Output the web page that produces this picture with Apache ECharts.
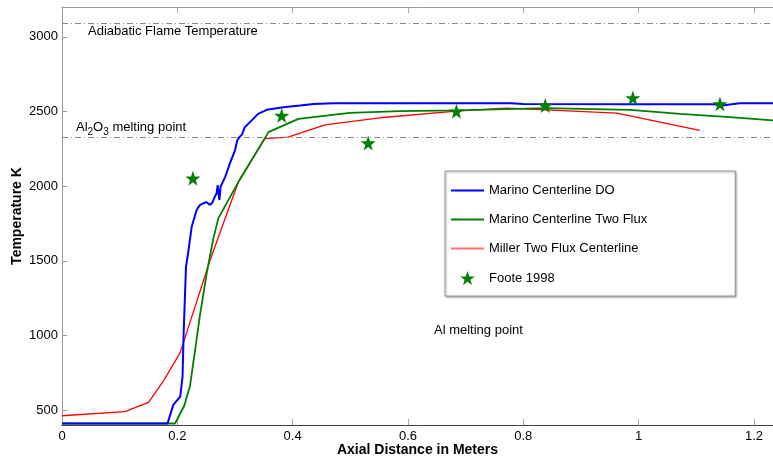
<!DOCTYPE html>
<html><head><meta charset="utf-8">
<script src="https://cdn.jsdelivr.net/npm/echarts@6/dist/echarts.min.js"></script>
<style>html,body{margin:0;padding:0;background:#fff}#c{width:773px;height:459px}</style>
</head><body><div id="c"></div>
<script>
const xTicks = [0, 0.2, 0.4, 0.6, 0.8, 1.0, 1.2];
const yTicks = [500, 1000, 1500, 2000, 2500, 3000];

const blueX = [0,0.183,0.193,0.205,0.208,0.209,0.211,0.213,0.215,0.219,0.225,0.2335,0.239,0.245,0.251,0.256,0.260,0.265,0.268,0.270,0.272,0.273,0.275,0.283,0.291,0.300,0.304,0.306,0.308,0.312,0.317,0.326,0.340,0.355,0.384,0.413,0.436,0.470,0.586,0.78,0.8,1.0,1.13,1.145,1.175,1.233];
const blueY = [410,410,535,590,600,720,1020,1240,1460,1560,1730,1840,1873,1885,1893,1875,1885,1929,1950,2007,1930,1907,1995,2062,2151,2240,2307,2300,2330,2345,2395,2429,2484,2511,2529,2540,2551,2555,2555,2555,2550,2548,2548,2540,2555,2555];

const greenX = [0,0.196,0.212,0.222,0.231,0.239,0.251,0.262,0.271,0.306,0.358,0.410,0.499,0.586,0.684,0.840,0.985,1.072,1.158,1.233];
const greenY = [410,410,529,662,907,1129,1418,1640,1784,2029,2362,2451,2491,2502,2507,2522,2511,2484,2462,2440];

const redX = [0,0.109,0.150,0.176,0.205,0.257,0.306,0.352,0.392,0.456,0.551,0.684,0.771,0.858,0.962,1.106];
const redY = [462,489,551,696,885,1507,2029,2318,2329,2411,2458,2502,2522,2507,2489,2373];

const footeX = [0.227,0.381,0.531,0.684,0.838,0.990,1.141];
const footeY = [2053,2473,2289,2502,2540,2591,2551];

const al2o3Melt = 2327;
const adiabatic = 3093;

const zip = (a, b) => a.map((v, i) => [v, b[i]]);
const star = 'path://M50,0 L61.8,35.1 L98.1,35.1 L68.8,56.7 L79.4,90.5 L50,69.1 L20.6,90.5 L31.2,56.7 L1.9,35.1 L38.2,35.1 Z';
const lineIcon2 = 'path://M0,0 H100 V6 H0 Z';
const FONT = 'Liberation Sans, Arial, sans-serif';

const chart = echarts.init(document.getElementById('c'), null, {renderer: 'canvas'});
chart.setOption({
  animation: false,
  backgroundColor: '#fff',
  grid: {left: 62, right: 0, top: 7, bottom: 34, containLabel: false, outerBoundsMode: 'none'},
  xAxis: [{
    type: 'value', min: 0, max: 1.233, position: 'bottom',
    name: 'Axial Distance in Meters', nameLocation: 'middle', nameGap: 18, nameMoveOverlap: false,
    nameTextStyle: {fontFamily: FONT, fontWeight: 'bold', fontSize: 14, color: '#000'},
    axisLine: {lineStyle: {color: '#444', width: 1}},
    axisTick: {inside: true, length: 6, customValues: xTicks, lineStyle: {color: '#aaa'}},
    axisLabel: {customValues: xTicks, fontFamily: FONT, fontSize: 13, color: '#000', margin: 5,
      formatter: v => String(+v.toFixed(1))},
    splitLine: {show: false}
  }, {
    type: 'value', min: 0, max: 1.233, position: 'top',
    axisLine: {lineStyle: {color: '#999', width: 1}},
    axisTick: {inside: true, length: 6, customValues: xTicks, lineStyle: {color: '#aaa'}},
    axisLabel: {show: false}, splitLine: {show: false}
  }],
  yAxis: {
    type: 'value', min: 400, max: 3200,
    name: 'Temperature K', nameLocation: 'middle', nameGap: 38, nameMoveOverlap: false,
    nameTextStyle: {fontFamily: FONT, fontWeight: 'bold', fontSize: 14, color: '#000'},
    axisLine: {show: true, lineStyle: {color: '#999', width: 1}},
    axisTick: {show: true, inside: true, length: 5, customValues: yTicks, lineStyle: {color: '#999'}},
    axisLabel: {customValues: yTicks, fontFamily: FONT, fontSize: 13, color: '#000', margin: 4,
      formatter: v => String(v)},
    splitLine: {show: false}
  },
  legend: {
    orient: 'vertical', left: 445, top: 171,
    padding: [13, 88, 11, 6], itemGap: 16, itemWidth: 33, itemHeight: 14,
    backgroundColor: '#fff', borderColor: '#999', borderWidth: 1,
    shadowColor: 'rgba(0,0,0,0.35)', shadowOffsetX: 1, shadowOffsetY: 1, shadowBlur: 2,
    textStyle: {fontFamily: FONT, fontSize: 13, color: '#000'},
    data: [
      {name: 'Marino Centerline DO', icon: lineIcon2, itemStyle: {color: '#0000ff'}},
      {name: 'Marino Centerline Two Flux', icon: lineIcon2, itemStyle: {color: '#008000'}},
      {name: 'Miller Two Flux Centerline', icon: lineIcon2, itemStyle: {color: '#ff7070'}},
      {name: 'Foote 1998', icon: star, itemStyle: {color: '#008000', opacity: 1}}
    ]
  },
  series: [
    {
      name: 'Marino Centerline DO', type: 'line', data: zip(blueX, blueY),
      showSymbol: false, symbol: 'none', lineStyle: {color: '#0000ff', width: 2}, itemStyle: {color: '#0000ff'},
      z: 4,
      markLine: {
        silent: true, symbol: 'none', label: {show: false},
        lineStyle: {color: '#888', width: 1, type: [6, 3, 1, 3]},
        data: [{yAxis: al2o3Melt}, {yAxis: adiabatic}]
      }
    },
    {
      name: 'Marino Centerline Two Flux', type: 'line', data: zip(greenX, greenY),
      showSymbol: false, symbol: 'none', lineStyle: {color: '#008000', width: 1.8}, itemStyle: {color: '#008000'}, z: 3
    },
    {
      name: 'Miller Two Flux Centerline', type: 'line', data: zip(redX, redY),
      showSymbol: false, symbol: 'none', lineStyle: {color: '#ff0000', width: 1.3}, itemStyle: {color: '#ff0000'}, z: 2
    },
    {
      name: 'Foote 1998', type: 'scatter', data: zip(footeX, footeY),
      symbol: star, symbolSize: 15, itemStyle: {color: '#008000', opacity: 1}, z: 5
    }
  ],
  graphic: [
    {type: 'text', left: 88, top: 25, style: {text: 'Adiabatic Flame Temperature', font: '13px ' + FONT, fill: '#000'}},
    {type: 'text', left: 76, top: 118, style: {
      text: '{n|Al}{s|2}{n|O}{s|3}{n| melting point}', font: '13px ' + FONT, fill: '#000',
      rich: {n: {fontFamily: FONT, fontSize: 13, fill: '#000', verticalAlign: 'top', lineHeight: 14},
             s: {fontFamily: FONT, fontSize: 10, fill: '#000', padding: [9, 0, 0, 0], lineHeight: 14}}
    }},
    {type: 'text', left: 434, top: 324, style: {text: 'Al melting point', font: '13px ' + FONT, fill: '#000'}}
  ]
});
</script>
</body></html>
